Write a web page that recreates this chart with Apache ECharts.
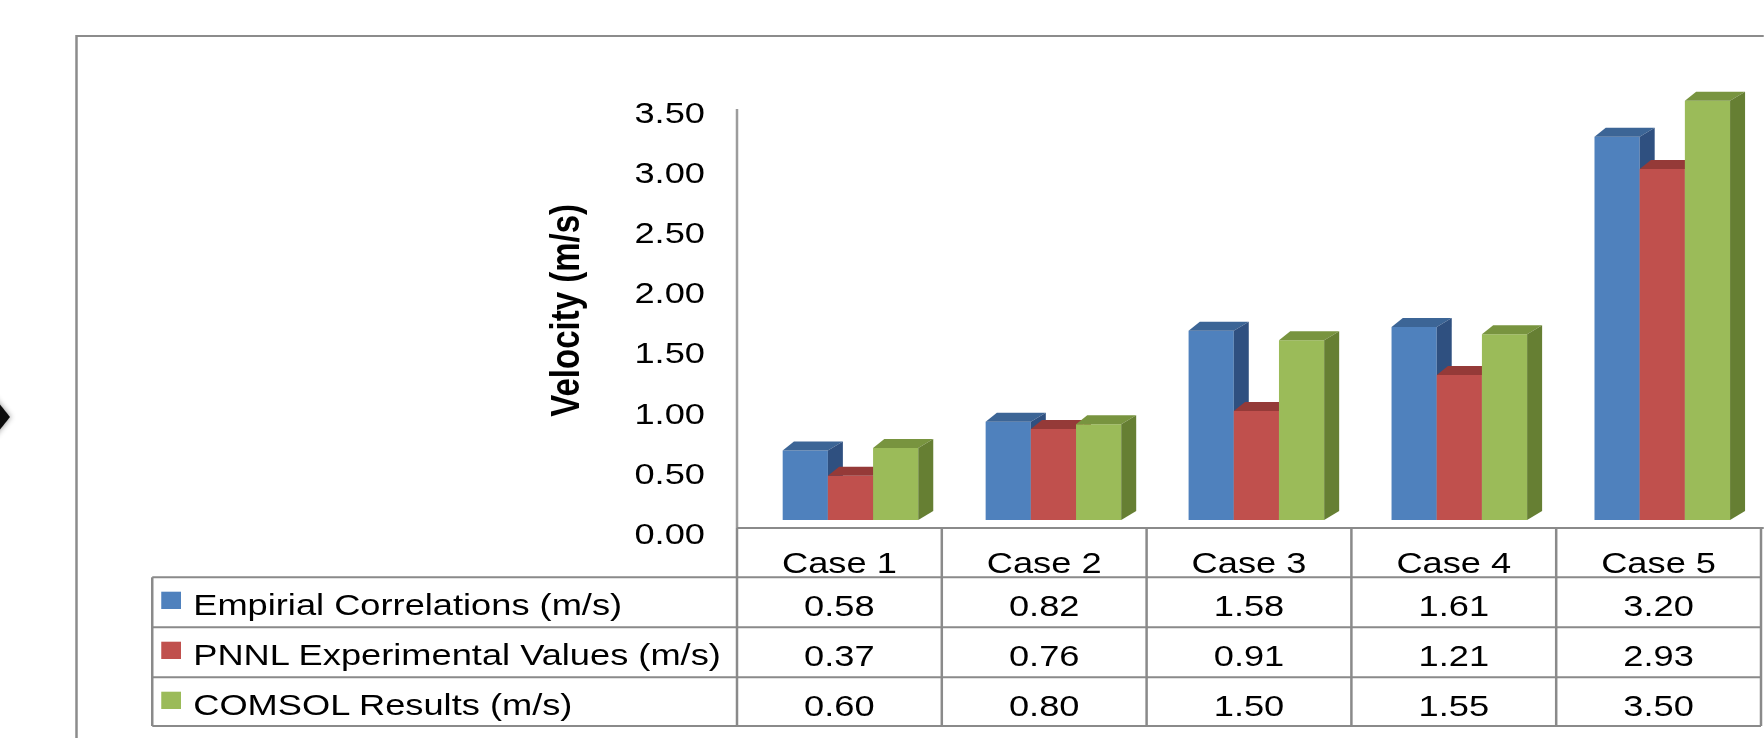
<!DOCTYPE html>
<html>
<head>
<meta charset="utf-8">
<script src="https://cdn.jsdelivr.net/npm/echarts@6/dist/echarts.min.js"></script>
<style>
  html, body { margin: 0; padding: 0; background: #fff; overflow: hidden; width: 1764px; height: 738px; }
  /* the figure is drawn 1.25x wider than its natural proportions */
  #chart { width: 1411.2px; height: 738px; transform: scaleX(1.25); transform-origin: 0 0; }
</style>
</head>
<body>
<div id="chart"></div>
<script>
// ---- data ----
const categories = ['Case 1', 'Case 2', 'Case 3', 'Case 4', 'Case 5'];
const seriesNames = ['Empirial Correlations (m/s)', 'PNNL Experimental Values (m/s)', 'COMSOL Results (m/s)'];
const empirical = [0.58, 0.82, 1.58, 1.61, 3.20];
const pnnl = [0.37, 0.76, 0.91, 1.21, 2.93];
const comsol = [0.60, 0.80, 1.50, 1.55, 3.50];
const axisTitle = 'Velocity (m/s)';

// ---- styling / layout (unstretched px) ----
const FONT = '"Liberation Sans", Arial, Helvetica, sans-serif';
const palette = [
  { front: '#4F81BD', top: '#3C6596', side: '#2F5080' },
  { front: '#C0504D', top: '#953A38', side: '#863230' },
  { front: '#9BBB59', top: '#78943F', side: '#667F33' }
];
const COL_LEFT = 589.6, COL_W = 163.84;      // table columns / value axis position
const BAR_SHIFT = 9.6;                        // perspective shift of the bar block
const PLOT_TOP = 100.7, PLOT_BASE = 520;      // front plane of the bars
const LABEL_TOP = 113, LABEL_BASE = 533.5;    // back wall where tick labels sit
const HEADER_TOP = 528;
const ROW_TOPS = [577.3, 627.3, 677.3];
const TABLE_BOTTOM = 726, TABLE_LEFT = 121.8;
const DEPTH_X = 12, DEPTH_Y = -9;
const GROUP_RATIO = 0.668;
const H = 738;

const seriesValues = [empirical, pnnl, comsol];

function bar3d(slot) {
  const col = palette[slot];
  return function (params, api) {
    const c = api.value(0), v = api.value(1);
    const p0 = api.coord([c, 0]);
    const p1 = api.coord([c, v]);
    const band = api.size([1, 0])[0];
    const w = band * GROUP_RATIO / 3;
    const x = p0[0] - 1.5 * w + slot * w;
    const yb = p0[1], yt = p1[1];
    return {
      type: 'group',
      children: [
        { type: 'rect', shape: { x: x, y: yt, width: w, height: yb - yt }, style: { fill: col.front } },
        { type: 'polygon', shape: { points: [[x, yt], [x + w, yt], [x + w + DEPTH_X, yt + DEPTH_Y], [x + DEPTH_X * 0.75, yt + DEPTH_Y]] }, style: { fill: col.top } },
        { type: 'polygon', shape: { points: [[x + w, yt], [x + w + DEPTH_X, yt + DEPTH_Y], [x + w + DEPTH_X, yb + DEPTH_Y], [x + w, yb]] }, style: { fill: col.side } }
      ]
    };
  };
}

// ---- frame, walls and data table ----
const gridLine = { stroke: '#8a8a8a', lineWidth: 2 };
const graphics = [];
graphics.push({ type: 'rect', silent: true, shape: { x: 61.2, y: 36, width: 1500, height: 800 },
  style: { fill: 'none', stroke: '#8c8c8c', lineWidth: 2 } });
graphics.push({ type: 'polygon', silent: true, shape: { points: [[8, 417], [-8, 442], [-24, 417], [-8, 392]] },
  style: { fill: '#111', shadowBlur: 5, shadowColor: 'rgba(0,0,0,0.45)' } });
graphics.push({ type: 'line', silent: true, shape: { x1: COL_LEFT, y1: 109, x2: COL_LEFT, y2: HEADER_TOP }, style: { stroke: '#9c9c9c', lineWidth: 2 } });
graphics.push({ type: 'line', silent: true, shape: { x1: COL_LEFT, y1: HEADER_TOP, x2: 1420, y2: HEADER_TOP }, style: gridLine });
for (let i = 0; i <= categories.length; i++) {
  const x = COL_LEFT + i * COL_W;
  graphics.push({ type: 'line', silent: true, shape: { x1: x, y1: HEADER_TOP, x2: x, y2: TABLE_BOTTOM }, style: gridLine });
}
ROW_TOPS.concat([TABLE_BOTTOM]).forEach(function (y) {
  graphics.push({ type: 'line', silent: true, shape: { x1: TABLE_LEFT, y1: y, x2: COL_LEFT + categories.length * COL_W, y2: y }, style: gridLine });
});
graphics.push({ type: 'line', silent: true, shape: { x1: TABLE_LEFT, y1: ROW_TOPS[0], x2: TABLE_LEFT, y2: TABLE_BOTTOM }, style: gridLine });
seriesNames.forEach(function (name, r) {
  const top = ROW_TOPS[r];
  graphics.push({ type: 'rect', silent: true, shape: { x: 129, y: top + 14.4, width: 15.8, height: 17.3 }, style: { fill: palette[r].front } });
  graphics.push({ type: 'text', silent: true, style: { text: name, x: 154.6, y: top + 28, fontSize: 29, fontFamily: FONT, fill: '#000', align: 'left', verticalAlign: 'middle' } });
  seriesValues[r].forEach(function (v, i) {
    graphics.push({ type: 'text', silent: true, style: { text: v.toFixed(2), x: COL_LEFT + (i + 0.5) * COL_W, y: top + 28.5, fontSize: 29, fontFamily: FONT, fill: '#000', align: 'center', verticalAlign: 'middle' } });
  });
});

const chart = echarts.init(document.getElementById('chart'), null, { renderer: 'svg' });
chart.setOption({
  backgroundColor: '#fff',
  animation: false,
  grid: [
    { left: COL_LEFT + BAR_SHIFT, width: categories.length * COL_W, top: PLOT_TOP, bottom: H - PLOT_BASE },
    { left: COL_LEFT, width: categories.length * COL_W, top: LABEL_TOP, bottom: H - LABEL_BASE }
  ],
  xAxis: [
    { gridIndex: 0, type: 'category', data: categories, show: false },
    { gridIndex: 1, type: 'category', data: categories,
      axisLine: { show: false }, axisTick: { show: false }, splitLine: { show: false },
      axisLabel: { margin: 14.5, fontSize: 29, fontFamily: FONT, color: '#000' } }
  ],
  yAxis: [
    { gridIndex: 0, type: 'value', min: 0, max: 3.5, interval: 0.5,
      name: axisTitle, nameLocation: 'middle', nameRotate: 90, nameGap: 131,
      nameTextStyle: { fontSize: 33, fontWeight: 'bold', fontFamily: FONT, color: '#000' },
      axisLine: { show: false }, axisTick: { show: false }, axisLabel: { show: false }, splitLine: { show: false } },
    { gridIndex: 1, type: 'value', min: 0, max: 3.5, interval: 0.5,
      axisLine: { show: false }, axisTick: { show: false }, splitLine: { show: false },
      axisLabel: { margin: 25.6, fontSize: 29, fontFamily: FONT, color: '#000', formatter: function (v) { return v.toFixed(2); } } }
  ],
  graphic: graphics,
  series: seriesValues.map(function (vals, s) {
    return {
      type: 'custom',
      name: seriesNames[s],
      xAxisIndex: 0, yAxisIndex: 0,
      clip: false,
      renderItem: bar3d(s),
      encode: { x: 0, y: 1 },
      data: vals.map(function (v, i) { return [i, v]; })
    };
  })
});
</script>
</body>
</html>
